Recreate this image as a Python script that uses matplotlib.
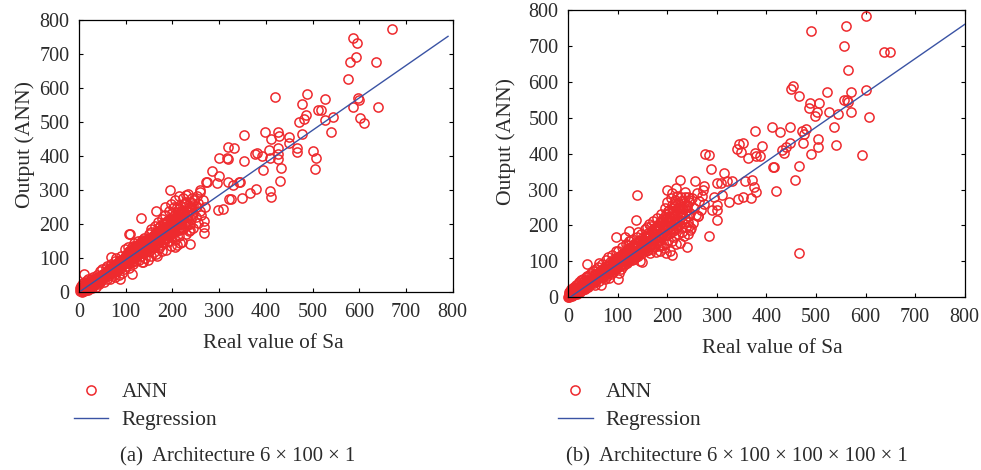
import matplotlib
matplotlib.use("Agg")
import matplotlib.pyplot as plt

plt.rcParams['font.family'] = ['Liberation Serif', 'DejaVu Serif']

RED = '#ee2a2e'
BLUE = '#3a53a4'
TXT = '#2b2b2b'

ticks = [0, 100, 200, 300, 400, 500, 600, 700, 800]
xlabel = 'Real value of Sa'
ylabel = 'Output (ANN)'
series_labels = ['ANN', 'Regression']
caption_a = '(a)  Architecture 6 × 100 × 1'
caption_b = '(b)  Architecture 6 × 100 × 100 × 100 × 1'

reg_x_a = [4, 790]
reg_y_a = [4, 752]
reg_x_b = [4, 800]
reg_y_b = [0, 760]

sparse_x_a = [671,587,596,593,581,635,576,597,600,587,641,602,611,489,527,420,477,512,519,486,482,471,527,544,478,539,398,427,428,410,353,449,450,332,320,427,407,466,466,500,507,505,425,427,432,431,377,382,391,409,300,316,320,353,393,284,300,272,273,295,318,342,345,330,259,379,367,348,322,326,409,410,298,308,268,268,238,238,195,164,132,108,109,184,69,11,113,88,168,138,206,216]
sparse_y_a = [773,747,733,692,676,676,627,570,565,543,543,512,498,583,568,573,554,535,537,522,510,500,506,514,465,470,471,471,459,450,461,457,440,424,427,425,419,423,413,416,395,363,406,393,364,326,406,410,400,396,394,396,393,386,358,356,343,325,325,320,325,323,325,315,300,303,291,277,275,275,298,280,242,245,193,173,183,141,302,239,219,171,171,250,105,55,54,38,108,89,132,144]

dense_x_a = [2,3,4,5,6,7,8,9,10,12, 13,14,15,16,18,19,20,22,23,25, 26,28,30,31,33,35,36,38,40,41,
             43,45,46,48,50,52,54,55,57,59, 60,62,64,66,68,70,72,74,76,78, 80,82,84,85,87,89,90,92,94,96,
             98,100,102,104,105,107,109,110,112,114, 115,117,118,120,122,124,125,127,129,130,
             132,134,135,137,139,140,142,144,145,147, 149,150,152,154,155,157,158,160,162,164,
             165,167,168,170,172,174,175,177,178,180, 182,184,185,187,188,190,192,193,195,197,
             198,200,202,203,205,206,208,210,212,214, 215,217,218,220,222,223,225,227,228,230,
             232,233,235,237,238,240,242,244,245,247, 250,252,254,255,258,260,262,265,268,270,
             103,106,111,116,121,126,131,136,141,146, 151,156,161,166,171,176,181,186,191,196,
             201,204,207,211,216,219,224,229,234,239, 108,113,119,123,128,133,138,143,148,153,
             159,163,169,173,179,183,189,194,199,209, 170,175,180,185,190,195,200,205,210,215,
             20,24,27,29,32,34,37,39,42,44, 47,49,51,53,56,58,61,63,65,67, 69,71,73,75,77,79,81,83,86,88]
dense_y_a = [4,12,18,8,22,2,14,26,6,20, 6,28,14,34,10,22,38,12,30,18, 40,14,30,46,20,36,16,52,28,44,
             24,62,38,32,68,44,30,58,72,40, 76,48,62,38,84,58,74,52,92,46, 100,62,84,50,96,72,108,58,90,68,
             126,78,112,92,134,70,118,86,100,132, 84,146,104,122,92,140,110,150,96,128,
             108,152,88,134,118,160,102,146,126,96, 172,120,150,108,186,134,162,118,194,144,
             112,178,152,206,130,196,160,122,214,176, 144,226,190,124,210,166,238,150,200,260,
             136,222,178,250,154,270,196,140,236,282, 166,256,204,148,276,186,240,262,170,286,
             216,290,180,264,200,252,278,190,234,270, 220,282,204,262,240,294,228,272,210,250,
             100,104,108,116,118,124,126,132,136,140, 142,148,152,156,164,168,172,178,182,188,
             190,210,200,214,220,200,226,220,236,226, 122,90,132,106,136,114,148,118,158,130,
             140,170,146,184,158,200,178,214,166,222, 190,140,190,160,150,170,210,180,250,190,
             16,24,24,36,26,28,40,32,40,46, 44,50,50,52,50,56,60,58,58,70, 66,66,72,72,80,70,82,74,86,82]

core_x_a = [30,33,36,39,42,45,48,51,54,57, 60,63,66,69,72,75,78,81,84,87, 90,93,96,99,102,105,108,111,114,117,
            120,123,126,129,132,135,138,141,144,147, 150,153,156,159,162,165,168,171,174,177,
            180,183,186,189,192,195,198,201,204,207, 210,213,216,219,222,225,228,231,234,237,
            100,110,120,130,140,150,160,170,180,190, 105,115,125,135,145,155,165,175,185,195,
            200,205,210,215,220,225,230,235,240,245, 60,70,80,90,100,110,120,130,140,150,
            65,75,85,95,105,115,125,135,145,155, 160,170,180,190,200,210,220,230,240,250,
            170,178,186,194,202,210,218,226,234,242, 4,6,8,10,12,14,16,18,20,22, 6,9,11,13,15,17,19,21,24,26]
core_y_a = [22,38,28,42,32,48,38,54,44,50, 54,66,56,72,60,80,66,86,72,92, 76,96,84,104,88,110,94,116,98,122,
            104,130,110,136,116,142,120,146,124,152, 130,156,134,164,140,170,146,176,150,182,
            156,188,160,194,164,200,170,206,176,212, 180,218,186,226,190,232,194,238,200,244,
            110,120,130,126,150,160,150,170,170,210, 86,112,116,124,132,146,142,186,204,176,
            196,230,206,244,216,260,208,250,214,256, 64,62,76,86,96,100,112,144,124,142,
            52,64,70,82,118,136,130,154,148,176, 168,158,204,196,232,200,234,264,242,250,
            172,166,192,190,216,228,240,208,226,262, 8,16,10,18,12,20,16,24,26,22, 4,10,4,14,8,24,8,30,14,30]

sparse_x_b = [600,490,560,556,638,649,564,454,450,466,523,570,600,489,507,487,527,503,499,544,570,606,556,562,565,378,411,447,427,471,480,476,537,504,505,540,473,491,593,353,345,341,348,391,377,380,387,364,447,439,431,435,416,413,466,458,419,277,284,289,225,256,315,308,320,331,357,372,376,379,370,353,343,325,311,300,274,273,294,300,301,290,300,284,240,210,198,466,140,138,97,114,124,142,159,38,62,101,150,185,199,209,218,235,242,246,263,246,245]
sparse_y_b = [784,742,756,701,684,684,634,589,579,560,573,572,576,540,540,528,517,516,505,510,517,503,549,549,545,464,475,475,459,463,470,454,474,442,418,423,431,400,397,431,428,414,405,422,401,393,394,389,429,419,410,401,364,364,367,327,297,400,397,358,328,324,345,319,324,324,323,327,308,294,276,278,275,264,285,317,310,299,280,257,243,243,215,172,141,118,122,123,285,215,168,167,186,183,197,93,96,50,99,146,299,291,303,292,280,234,225,187,199]

dense_x_b = [1,2,3,3,4,5,6,7,8,9, 10,11,12,13,14,15,16,17,18,20, 21,22,24,25,26,28,29,30,32,33,
             34,36,38,39,41,42,44,45,47,48, 50,52,54,55,57,59,60,62,64,66, 68,70,72,74,76,78,80,82,84,86,
             88,90,92,94,96,98,100,102,104,106, 108,110,112,114,116,118,120,122,124,126,
             128,130,132,134,136,138,140,142,144,146, 148,150,152,154,156,158,160,162,164,166,
             168,170,172,174,176,178,180,182,184,186, 188,190,192,194,196,198,200,202,204,206,
             208,210,212,214,216,218,220,222,224,226, 228,230,232,234,236,238,240,242,244,248,
             250,252,255,258,260,262,265,268,270,275,
             15,19,23,27,31,35,37,40,43,46, 49,51,53,56,58,61,63,65,67,69, 71,73,75,77,79,81,83,85,87,89,
             91,93,95,97,99,101,103,105,107,109, 111,113,115,117,119,121,123,125,127,129,
             131,133,135,137,139,141,143,145,147,149, 151,153,155,157,159,161,163,165,167,169,
             171,173,175,177,179,181,183,185,187,189, 191,193,195,197,199,201,203,205,207,209,
             211,213,215,217,219,221,223,225,227,229]
dense_y_b = [2,8,1,14,18,5,10,22,3,16, 26,6,18,30,9,22,34,12,26,38, 14,42,26,16,48,34,20,52,28,44,
             24,56,34,58,28,62,46,36,68,42, 74,40,64,34,78,52,84,44,72,34, 92,56,82,50,104,60,112,54,98,64,
             118,70,106,78,130,84,128,68,116,80, 140,86,124,94,148,96,136,100,156,104,
             160,104,142,108,150,112,168,116,158,102, 176,122,150,128,190,130,170,132,204,124,
             198,134,212,140,186,126,222,142,200,130, 232,146,214,136,250,150,264,160,236,128,
             276,156,240,168,262,148,282,176,254,150, 268,182,246,172,278,196,256,176,264,192,
             276,206,250,230,290,226,268,244,282,260,
             14,18,22,26,30,34,35,38,41,44, 47,48,50,53,56,58,60,62,64,66, 68,70,72,74,76,78,80,82,84,86,
             88,92,90,96,92,100,98,106,98,112, 104,116,108,122,110,128,114,118,124,132,
             122,136,126,140,130,146,132,140,136,152, 142,160,146,168,150,156,156,176,160,182,
             160,178,166,192,170,200,174,206,178,212, 180,200,186,220,190,240,196,220,200,250,
             190,226,210,242,196,250,216,236,224,250]

core_x_b = [20,23,26,29,32,35,38,41,44,47, 50,53,56,59,62,65,68,71,74,77, 80,83,86,89,92,95,98,101,104,107,
            110,113,116,119,122,125,128,131,134,137, 140,143,146,149,152,155,158,161,164,167,
            170,173,176,179,182,185,188,191,194,197, 200,203,206,209,212,215,218,221,224,227,
            230,233,236,239,242,245,200,205,210,215, 100,110,120,130,140,150,160,170,180,190,
            105,115,125,135,145,155,165,175,185,195, 200,205,210,215,220,225,230,235,240,245,
            4,6,8,10,12,14,16,18,20,22, 2,4,5,7,9,11,13,16,18,19, 60,70,80,90,100,110,120,130,140,150]
core_y_b = [22,30,24,36,24,40,28,48,36,54, 42,60,48,64,54,72,58,78,62,86, 68,90,74,98,78,104,82,110,88,118,
            96,124,100,132,104,138,112,146,116,152, 120,158,128,164,134,170,138,180,142,186,
            148,192,152,198,156,210,164,222,170,232, 174,244,178,258,184,270,190,262,200,280,
            210,262,220,252,210,270,210,190,226,204, 104,118,118,126,138,134,164,156,190,168,
            90,100,110,146,126,158,144,170,160,204, 220,212,236,230,212,252,236,234,244,226,
            8,14,12,6,22,14,20,8,14,28, 5,4,12,6,12,12,18,26,18,30, 68,76,90,80,112,108,146,116,152,148]

W, H = 981, 470
fig = plt.figure(figsize=(W / 100, H / 100), dpi=100)


def panel(box, xs, ys, rx, ry, legend_at, caption, cap_x, ylab_pad, xlab_x, ylab_y):
    l, t, r, b = box
    ax = fig.add_axes([l / W, 1 - b / H, (r - l) / W, (b - t) / H])
    pts = ax.plot(xs, ys, 'o', ms=6.6, mfc='none', mec=RED,
                  mew=1.1, clip_on=False, ls='none', label=series_labels[0], zorder=2)[0]
    line = ax.plot(rx, ry, color=BLUE, lw=1.0, label=series_labels[1], zorder=3)[0]
    ax.set_xlim(0, 800)
    ax.set_ylim(0, 800)
    ax.set_xticks(ticks)
    ax.set_yticks(ticks)
    ax.tick_params(direction='in', top=True, right=True, length=3, width=0.8,
                   labelsize=14.5, labelcolor=TXT)
    ax.tick_params(axis='x', pad=8)
    ax.tick_params(axis='y', pad=7)
    for s in ax.spines.values():
        s.set_linewidth(0.9)
    ax.set_xlabel(xlabel, fontsize=15.3, color=TXT, labelpad=8)
    ax.set_ylabel(ylabel, fontsize=15.6, color=TXT, labelpad=ylab_pad)
    ax.xaxis.label.set_x(xlab_x)
    ax.yaxis.label.set_y(ylab_y)
    fig.legend(handles=[pts, line], loc='upper left',
               bbox_to_anchor=(legend_at[0] / W, 1 - legend_at[1] / H),
               bbox_transform=fig.transFigure, frameon=False, fontsize=15.5, labelcolor=TXT,
               handlelength=1.62, handletextpad=0.6, labelspacing=0.38, borderpad=0, borderaxespad=0)
    fig.text(cap_x / W, 1 - 457 / H, caption, fontsize=14.9, color=TXT, va='center', ha='left')
    return ax


panel((79, 20, 452.7, 292.3), sparse_x_a + dense_x_a + core_x_a, sparse_y_a + dense_y_a + core_y_a,
      reg_x_a, reg_y_a, (73.5, 382), caption_a, 120, 3, 0.52, 0.544)
panel((568, 10, 964.7, 297.3), sparse_x_b + dense_x_b + core_x_b, sparse_y_b + dense_y_b + core_y_b,
      reg_x_b, reg_y_b, (558, 382), caption_b, 566, 9, 0.514, 0.543)

fig.savefig('out.png', dpi=100)
